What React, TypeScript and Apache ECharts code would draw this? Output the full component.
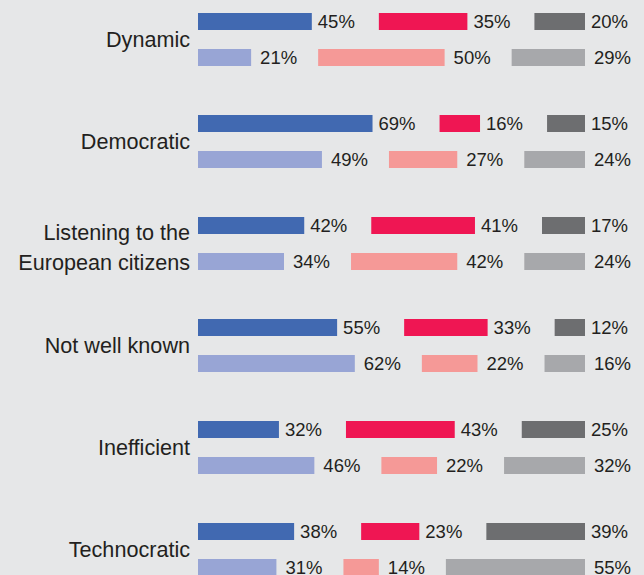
import React, { useEffect, useRef } from "react";
import * as echarts from "echarts";

const categories = [
  "Dynamic",
  "Democratic",
  "Listening to the\nEuropean citizens",
  "Not well known",
  "Inefficient",
  "Technocratic",
];
const row1Blue = [45, 69, 42, 55, 32, 38];
const row1Red = [35, 16, 41, 33, 43, 23];
const row1Gray = [20, 15, 17, 12, 25, 39];
const row2Blue = [21, 49, 34, 62, 46, 31];
const row2Red = [50, 27, 42, 22, 22, 14];
const row2Gray = [29, 24, 24, 16, 32, 55];

const GAP = 26.5;
const FONT = "'Liberation Sans', Arial, Helvetica, sans-serif";
const TEXT = "#231F20";

export default function App() {
  const ref = useRef<HTMLDivElement>(null);
  useEffect(() => {
    if (!ref.current) return;
    const chart = echarts.init(ref.current, undefined, { renderer: "svg" });
    const gapData = categories.map(() => GAP);
    const seg = (name: string, stack: string, data: number[], color: string, dist: number) => ({
      name,
      type: "bar",
      stack,
      data,
      barWidth: 17,
      barGap: "112%",
      itemStyle: { color },
      label: {
        show: true,
        position: "right",
        distance: dist,
        formatter: "{c}%",
        color: TEXT,
        fontSize: 18.5,
        fontFamily: FONT,
      },
    });
    const gap = (stack: string) => ({
      type: "bar",
      stack,
      data: gapData,
      barWidth: 17,
      barGap: "112%",
      itemStyle: { color: "rgba(0,0,0,0)" },
      label: { show: false },
      silent: true,
    });
    chart.setOption({
      animation: false,
      backgroundColor: "#E6E7E8",
      grid: {
        left: 198,
        top: 0.5,
        width: 387,
        height: 612,
        containLabel: false,
        outerBoundsMode: "none",
      },
      xAxis: {
        type: "value",
        min: 0,
        max: 100 + 2 * GAP,
        show: false,
      },
      yAxis: {
        type: "category",
        data: categories,
        inverse: true,
        axisLine: { show: false },
        axisTick: { show: false },
        splitLine: { show: false },
        axisLabel: {
          margin: 8,
          color: TEXT,
          fontSize: 21.6,
          lineHeight: 30.5,
          fontFamily: FONT,
          align: "right",
          formatter: (v: string) =>
            v.includes("\n")
              ? "{s|}\n" + v.split("\n").map((l) => `{a|${l}}`).join("\n")
              : v,
          rich: {
            s: { lineHeight: 8, fontSize: 8 },
            a: { lineHeight: 30.5, fontSize: 21.6, fontFamily: FONT, color: TEXT },
          },
        },
      },
      series: [
        seg("a1", "a", row1Blue, "#4169B1", 6),
        gap("a"),
        seg("a2", "a", row1Red, "#EF1653", 6),
        gap("a"),
        seg("a3", "a", row1Gray, "#6D6E70", 6),
        seg("b1", "b", row2Blue, "#98A5D5", 9),
        gap("b"),
        seg("b2", "b", row2Red, "#F59997", 9),
        gap("b"),
        seg("b3", "b", row2Gray, "#A7A8AB", 9),
      ],
    });
    return () => chart.dispose();
  }, []);
  return (
    <div
      ref={ref}
      style={{ position: "fixed", left: 0, top: -12, width: 644, height: 625 }}
    />
  );
}
